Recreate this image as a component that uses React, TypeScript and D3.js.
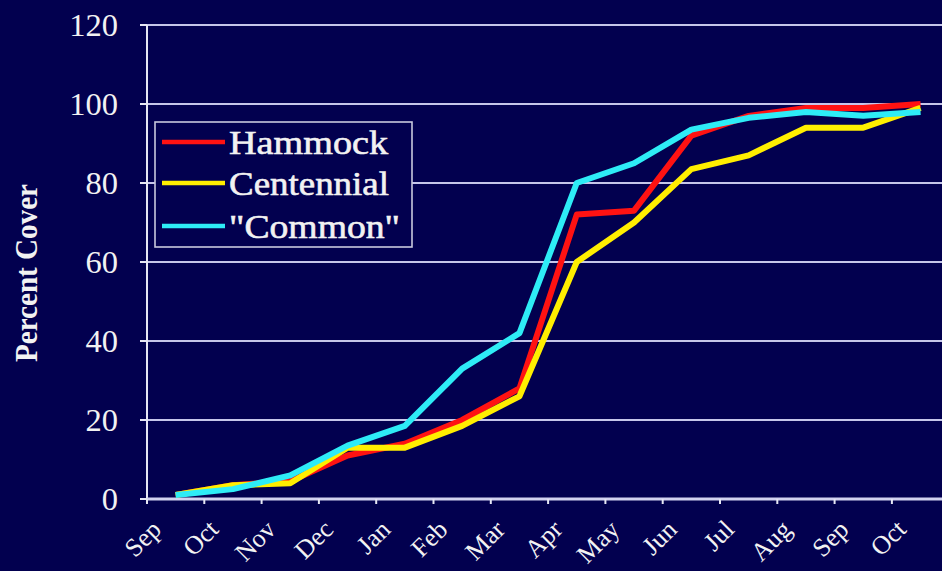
import React from 'react';
import * as d3 from 'd3';

const months = ['Sep', 'Oct', 'Nov', 'Dec', 'Jan', 'Feb', 'Mar', 'Apr', 'May', 'Jun', 'Jul', 'Aug', 'Sep', 'Oct'];
const hammock = [1, 3.5, 4.5, 11, 14, 20, 28, 72, 73, 92, 97, 99, 99, 100];
const centennial = [1, 3.5, 4, 13, 13, 18.5, 26, 60, 70, 83.5, 87, 94, 94, 99];
const common = [1, 2.5, 6, 13.5, 18.5, 33, 42, 80, 85, 93.5, 96.5, 98, 97, 98];
const yTicks = [0, 20, 40, 60, 80, 100, 120];
const seriesNames = ['Hammock', 'Centennial', '"Common"'];
const seriesColors = ['#ff1212', '#ffee00', '#2eecf6'];
const yTitle = 'Percent Cover';

export default function App() {
  const W = 942;
  const H = 571;
  const bg = '#02004f';
  const grid = '#c6c6ea';
  const textCol = '#f2f2f2';
  const font = '"Liberation Serif", "Times New Roman", serif';

  const x = d3
    .scaleBand<number>()
    .domain(d3.range(months.length))
    .range([147, 147 + 14 * 57.3])
    .paddingInner(0)
    .paddingOuter(0);
  const y = d3.scaleLinear().domain([0, 120]).range([499, 25]);
  const cx = (i: number) => (x(i) as number) + x.bandwidth() / 2;
  const line = d3
    .line<number>()
    .x((_, i) => cx(i))
    .y((d) => y(d));

  const series = [hammock, centennial, common];
  const x0 = 147;
  const legendWidths = [159, 160, 171];

  return (
    <svg width={W} height={H} style={{ position: 'absolute', left: 0, top: 0 }} fontFamily={font}>
      <rect x={0} y={0} width={W} height={H} fill={bg} />
      {/* gridlines */}
      {yTicks.filter((t) => t > 0).map((t) => (
        <line key={t} x1={x0} x2={W} y1={y(t)} y2={y(t)} stroke={grid} strokeWidth={2.2} />
      ))}
      {/* y axis */}
      <line x1={x0} x2={x0} y1={y(120)} y2={y(0)} stroke="#e6e6f4" strokeWidth={2} />
      {yTicks.map((t) => (
        <g key={'yt' + t}>
          <line x1={x0 - 7} x2={x0} y1={y(t)} y2={y(t)} stroke="#e6e6f4" strokeWidth={2} />
          <text x={118} y={y(t) + 11} textAnchor="end" fontSize={32.5} fill={textCol}>
            {t}
          </text>
        </g>
      ))}
      {/* x axis */}
      <line x1={x0} x2={W} y1={y(0)} y2={y(0)} stroke="#d2d2f0" strokeWidth={3} />
      {months.map((m, i) => (
        <g key={'xt' + i}>
          <line x1={x(i) as number} x2={x(i) as number} y1={y(0)} y2={y(0) + 5} stroke="#e6e6f4" strokeWidth={2} />
          <text
            transform={`translate(${cx(i) - 13},${531}) rotate(-45)`}
            textAnchor="end"
            fontSize={26}
            fill={textCol}
          >
            {m}
          </text>
        </g>
      ))}
      {/* y title */}
      <text
        transform={`translate(37,273) rotate(-90)`}
        textAnchor="middle"
        fontSize={31}
        fontWeight="bold"
        fill={textCol}
        textLength={178}
        lengthAdjust="spacingAndGlyphs"
      >
        {yTitle}
      </text>
      {/* lines */}
      {series.map((s, k) => (
        <path
          key={'s' + k}
          d={line(s) as string}
          fill="none"
          stroke={seriesColors[k]}
          strokeWidth={6}
          strokeLinejoin="round"
          strokeLinecap="butt"
        />
      ))}
      {/* legend */}
      <rect x={155} y={122} width={257} height={125} fill={bg} stroke="#c8c8dc" strokeWidth={1.6} />
      {seriesNames.map((n, k) => {
        const ry = [142, 183, 226][k];
        return (
          <g key={'lg' + k}>
            <line x1={162} x2={225} y1={ry} y2={ry} stroke={seriesColors[k]} strokeWidth={4.5} />
            <text
              x={229}
              y={ry + 12}
              fontSize={34}
              fill={textCol}
              stroke={textCol}
              strokeWidth={0.6}
              textLength={legendWidths[k]}
              lengthAdjust="spacingAndGlyphs"
            >
              {n}
            </text>
          </g>
        );
      })}
    </svg>
  );
}
